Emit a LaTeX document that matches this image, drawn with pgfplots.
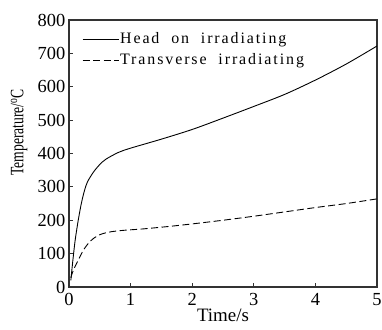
\documentclass[border=0pt]{standalone}
\usepackage{pgfplots}
\pgfplotsset{compat=1.18}
\usepackage{fontspec}
\setmainfont{Liberation Serif}
\newfontfamily\legfont{Liberation Serif}[LetterSpace=12,WordSpace=2]
\newfontfamily\ylabfont{Liberation Serif}[FakeStretch=0.72]
\begin{document}
\begin{tikzpicture}
\begin{axis}[
  scale only axis,
  width=308bp, height=267bp,
  xmin=0, xmax=5, ymin=0, ymax=800,
  xtick={0,1,2,3,4,5}, ytick={0,100,...,800},
  tick pos=left, tick align=inside,
  major tick length=4bp,
  axis line style={line width=1.1pt, black!80},
  every tick/.style={line width=0.9pt, black!80},
  /pgf/number format/assume math mode=true,
  ticklabel style={font=\fontsize{18.5}{20}\selectfont, inner sep=0.5bp},
  xticklabel style={yshift=-5.5bp},
  yticklabel style={xshift=-3bp},
  xlabel={Time/s},
  ylabel={Temperature/\textsuperscript{o}C},
  xlabel style={font=\fontsize{19}{20}\selectfont, at={(axis description cs:0.5,0)}, anchor=center, yshift=-28bp},
  ylabel style={font=\ylabfont\fontsize{19}{20}\selectfont, at={([xshift=-50bp]axis description cs:0,0.579)}, anchor=center},
  legend style={at={(0,1)}, anchor=north west, xshift=13bp, yshift=-10bp,
    draw=none, fill=none, inner sep=0pt,
    font=\legfont\fontsize{16}{18}\selectfont,
    nodes={inner sep=1bp, text height=12bp, text depth=5bp},
    row sep=2bp,
    /tikz/every even column/.append style={column sep=0bp}},
  legend cell align=left,
  legend image code/.code={\draw[#1] (0bp,0bp) -- (36bp,0bp);},
]
\addplot[black, line width=0.9pt, smooth] coordinates {
(0.03,20) (0.06,75) (0.1,140) (0.15,200) (0.2,250) (0.25,288) (0.3,315) (0.4,345)
(0.5,367) (0.6,383) (0.8,403) (1.0,416) (1.5,443) (2.0,472) (2.5,506) (3.0,541)
(3.5,577) (4.0,620) (4.5,668) (5.0,722)};
\addlegendentry{Head on irradiating}
\addplot[black, line width=0.9pt, dash pattern=on 7bp off 3.5bp, smooth] coordinates {
(0.03,28) (0.06,45) (0.1,62) (0.17,88) (0.25,115) (0.35,138) (0.45,152) (0.55,160)
(0.7,166) (0.9,170) (1.2,174) (1.6,181) (2.0,189) (2.5,200) (3.0,212) (3.5,225)
(4.0,238) (4.5,250) (5.0,264)};
\addlegendentry{Transverse irradiating}
\end{axis}
\pgfresetboundingbox
\path ([shift={(-69bp,-43bp)}]current axis.south west) rectangle ([shift={(5bp,20bp)}]current axis.north east);
\end{tikzpicture}
\end{document}
